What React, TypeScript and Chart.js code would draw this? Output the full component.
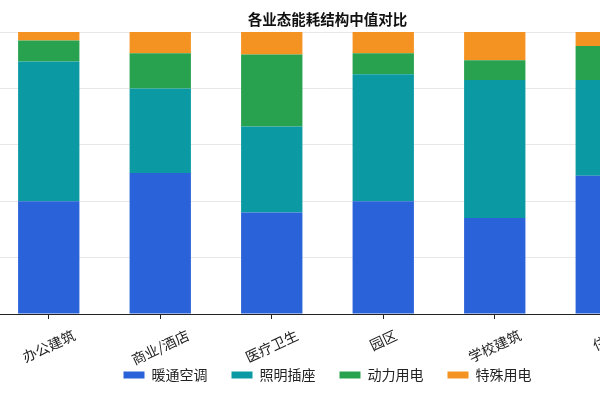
import React, { useEffect, useRef } from "react";
import { Chart, registerables } from "chart.js";

Chart.register(...registerables);

const title = "各业态能耗结构中值对比";
const categories = ["办公建筑", "商业/酒店", "医疗卫生", "园区", "学校建筑", "住宅"];
const seriesNames = ["暖通空调", "照明插座", "动力用电", "特殊用电"];
const hvac = [40, 50, 36, 40, 34, 49];
const lighting = [49.5, 30, 30.5, 45, 49, 34];
const power = [7.5, 12.5, 25.5, 7.5, 7, 12];
const special = [3, 7.5, 8, 7.5, 10, 5];
const yTicks = [0, 20, 40, 60, 80, 100];

const colors = ["#2a62d9", "#0b9aa3", "#29a24f", "#f49322"];
const FONT = '"Noto Sans CJK SC", "Noto Sans", sans-serif';
const LABEL_ANGLE = 25;
const LABEL_SIZE = 14;

const xLabelPlugin = {
  id: "rotatedCenteredXLabels",
  afterDraw(chart: any) {
    const scale = chart.scales.x;
    const ctx = chart.ctx as CanvasRenderingContext2D;
    const th = (LABEL_ANGLE * Math.PI) / 180;
    ctx.save();
    ctx.font = `${LABEL_SIZE}px ${FONT}`;
    ctx.fillStyle = "#222";
    ctx.textAlign = "center";
    ctx.textBaseline = "middle";
    categories.forEach((label, i) => {
      const cx = scale.getPixelForTick(i);
      const w = ctx.measureText(label).width;
      const h = w * Math.sin(th) + LABEL_SIZE * Math.cos(th);
      const cy = scale.top + 14 + h / 2;
      ctx.save();
      ctx.translate(cx, cy);
      ctx.rotate(-th);
      ctx.fillText(label, 0, 0);
      ctx.restore();
    });
    ctx.restore();
  },
};

export default function App() {
  const ref = useRef<HTMLCanvasElement | null>(null);

  useEffect(() => {
    if (!ref.current) return;
    const series = [hvac, lighting, power, special];
    const chart = new Chart(ref.current, {
      type: "bar",
      data: {
        labels: categories,
        datasets: series.map((d, i) => ({
          label: seriesNames[i],
          data: d,
          backgroundColor: colors[i],
          borderWidth: 0,
          categoryPercentage: 1,
          barPercentage: 0.55,
        })),
      },
      options: {
        responsive: false,
        animation: false,
        devicePixelRatio: 1,
        layout: { padding: { left: 10, right: 10, top: 0, bottom: 8 } },
        plugins: {
          title: {
            display: true,
            text: title,
            color: "#111",
            font: { family: FONT, size: 14.5, weight: "bold", lineHeight: 1.2 },
            padding: { top: 11, bottom: 3.6 },
          },
          legend: {
            display: true,
            position: "bottom",
            labels: {
              font: { family: FONT, size: 14 },
              color: "#222",
              boxWidth: 21,
              boxHeight: 7,
              padding: 24,
            },
          },
          tooltip: { enabled: false },
        },
        scales: {
          x: {
            stacked: true,
            offset: true,
            grid: {
              display: true,
              drawOnChartArea: false,
              drawTicks: true,
              tickLength: 5,
              offset: false,
              color: "#222",
              lineWidth: 1,
            },
            border: { display: true, color: "#222", width: 1 },
            ticks: { display: false },
            afterFit: (scale: any) => {
              scale.height = 30;
            },
          },
          y: {
            stacked: true,
            min: 0,
            max: 100,
            afterBuildTicks: (scale: any) => {
              scale.ticks = yTicks.map((v) => ({ value: v }));
            },
            grid: { color: "rgba(0,0,0,0.09)", drawTicks: false, lineWidth: 1 },
            border: { display: false },
            ticks: { display: false },
            afterFit: (scale: any) => {
              scale.width = 0;
            },
          },
        },
      },
      plugins: [xLabelPlugin],
    });
    return () => chart.destroy();
  }, []);

  return (
    <div
      style={{
        position: "fixed",
        left: 0,
        top: 0,
        width: 600,
        height: 400,
        overflow: "hidden",
        background: "#fff",
      }}
    >
      <canvas
        ref={ref}
        width={689}
        height={400}
        style={{ position: "absolute", left: -17, top: 0, width: 689, height: 400 }}
      />
    </div>
  );
}
